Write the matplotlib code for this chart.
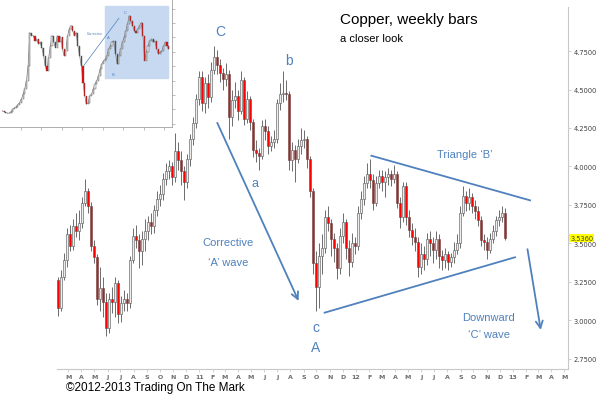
import matplotlib
matplotlib.use('Agg')
import matplotlib.pyplot as plt
import matplotlib.dates as mdates
import pandas as pd

# weekly copper bars, Feb 2010 - Dec 2012
first_open = 3.26
closes = [3.08, 3.28, 3.39, 3.56, 3.48, 3.61, 3.58, 3.63, 3.76, 3.84,
          3.74, 3.48, 3.41, 3.14, 3.21, 3.12, 2.95, 3.14, 3.12, 3.24,
          3.04, 3.11, 3.14, 3.11, 3.39, 3.55, 3.52, 3.45, 3.53, 3.58,
          3.64, 3.61, 3.72, 3.79, 3.82, 3.92, 3.97, 4.00, 3.93, 4.10,
          4.04, 3.97, 3.90, 4.05, 4.18, 4.28, 4.44, 4.58, 4.41, 4.54,
          4.45, 4.63, 4.71, 4.66, 4.61, 4.57, 4.60, 4.32, 4.43, 4.46,
          4.36, 4.56, 4.31, 4.44, 4.29, 4.11, 4.09, 4.07, 4.26, 4.23,
          4.13, 4.16, 4.18, 4.41, 4.47, 4.48, 4.47, 4.04, 4.11, 4.05,
          4.13, 4.17, 4.18, 4.05, 3.84, 3.37, 3.22, 3.42, 3.47, 3.67,
          3.63, 3.53, 3.47, 3.34, 3.55, 3.64, 3.47, 3.38, 3.50, 3.48,
          3.70, 3.79, 3.89, 3.95, 3.91, 3.76, 3.89, 3.94, 3.90, 3.93,
          3.95, 3.92, 3.95, 3.76, 3.67, 3.87, 3.67, 3.59, 3.54, 3.51,
          3.35, 3.43, 3.40, 3.53, 3.50, 3.46, 3.53, 3.42, 3.39, 3.43,
          3.38, 3.41, 3.46, 3.50, 3.70, 3.81, 3.76, 3.80, 3.74, 3.71,
          3.65, 3.52, 3.51, 3.46, 3.53, 3.58, 3.65, 3.67, 3.70, 3.536]
highs = [3.28, 3.33, 3.44, 3.60, 3.62, 3.66, 3.70, 3.72, 3.80, 3.92,
         3.86, 3.77, 3.52, 3.43, 3.35, 3.28, 3.18, 3.18, 3.22, 3.28,
         3.26, 3.16, 3.20, 3.18, 3.42, 3.60, 3.62, 3.56, 3.58, 3.66,
         3.68, 3.70, 3.75, 3.84, 3.88, 3.96, 4.02, 4.04, 4.03, 4.22,
         4.16, 4.10, 4.00, 4.08, 4.21, 4.32, 4.47, 4.62, 4.62, 4.58,
         4.60, 4.68, 4.78, 4.76, 4.70, 4.64, 4.67, 4.63, 4.50, 4.55,
         4.50, 4.62, 4.58, 4.49, 4.46, 4.31, 4.17, 4.12, 4.30, 4.31,
         4.26, 4.20, 4.24, 4.44, 4.54, 4.62, 4.56, 4.49, 4.16, 4.14,
         4.18, 4.25, 4.24, 4.20, 4.07, 3.86, 3.45, 3.50, 3.56, 3.72,
         3.74, 3.66, 3.57, 3.50, 3.60, 3.70, 3.66, 3.52, 3.57, 3.54,
         3.74, 3.84, 3.94, 4.02, 4.05, 3.95, 3.94, 3.98, 3.98, 3.97,
         3.99, 3.98, 4.01, 3.97, 3.80, 3.90, 3.90, 3.72, 3.63, 3.60,
         3.54, 3.50, 3.48, 3.57, 3.58, 3.54, 3.58, 3.56, 3.46, 3.47,
         3.45, 3.44, 3.51, 3.56, 3.74, 3.87, 3.84, 3.86, 3.83, 3.78,
         3.74, 3.68, 3.56, 3.54, 3.57, 3.62, 3.68, 3.72, 3.74, 3.73]
lows = [3.03, 3.06, 3.26, 3.35, 3.45, 3.46, 3.54, 3.52, 3.60, 3.74,
        3.70, 3.45, 3.37, 3.10, 3.06, 3.02, 2.90, 2.92, 3.05, 3.02,
        2.98, 2.99, 3.06, 3.06, 3.08, 3.37, 3.47, 3.34, 3.36, 3.45,
        3.52, 3.56, 3.57, 3.68, 3.74, 3.78, 3.88, 3.92, 3.88, 3.90,
        3.98, 3.88, 3.78, 3.86, 4.00, 4.14, 4.25, 4.40, 4.36, 4.35,
        4.38, 4.42, 4.60, 4.60, 4.55, 4.50, 4.52, 4.18, 4.26, 4.38,
        4.30, 4.34, 4.27, 4.28, 4.24, 4.06, 4.03, 3.98, 4.05, 4.17,
        4.08, 4.10, 4.12, 4.15, 4.37, 4.42, 4.43, 3.98, 3.97, 3.90,
        4.02, 4.08, 4.12, 3.99, 3.80, 3.30, 3.06, 3.08, 3.30, 3.44,
        3.58, 3.42, 3.38, 3.27, 3.30, 3.50, 3.40, 3.29, 3.35, 3.43,
        3.46, 3.66, 3.75, 3.86, 3.86, 3.72, 3.74, 3.86, 3.84, 3.80,
        3.88, 3.87, 3.89, 3.73, 3.60, 3.64, 3.62, 3.54, 3.49, 3.45,
        3.28, 3.30, 3.33, 3.36, 3.42, 3.37, 3.40, 3.34, 3.33, 3.34,
        3.33, 3.35, 3.37, 3.43, 3.47, 3.68, 3.71, 3.72, 3.70, 3.66,
        3.61, 3.48, 3.46, 3.40, 3.44, 3.50, 3.55, 3.61, 3.64, 3.52]
weeks = pd.date_range('2010-02-05', periods=len(closes), freq='W-FRI')
last_price = '3.5360'

# long-term overview for the inset (monthly, from Jan 2005)
inset_first_open = 1.45
inset_closes = [1.44, 1.41, 1.38, 1.36, 1.36, 1.41, 1.50, 1.55, 1.59, 1.66,
                1.73, 1.85, 2.02, 2.20, 2.49, 3.01, 4.17, 4.06, 4.06, 3.88,
                3.94, 3.77, 3.83, 3.65, 3.36, 3.01, 2.84, 3.30, 3.71, 4.06,
                3.83, 3.65, 4.06, 3.83, 4.00, 3.59, 3.36, 3.53, 4.06, 4.29,
                4.41, 4.23, 4.06, 4.17, 3.71, 3.36, 3.01, 2.43, 1.97, 1.67,
                1.73, 1.97, 2.02, 2.20, 2.37, 2.49, 2.66, 2.90, 3.07, 3.19,
                3.24, 3.36, 3.59, 3.71, 3.83, 3.88, 3.42, 3.07, 3.36, 3.59,
                3.83, 4.00, 4.23, 4.47, 4.76, 4.58, 4.41, 4.23, 4.17, 4.29,
                4.41, 4.52, 4.06, 3.19, 3.48, 3.71, 3.88, 3.94, 3.83, 3.88,
                3.59, 3.42, 3.48, 3.53, 3.71, 3.83, 3.71, 3.59]
inset_months = pd.date_range('2005-01-15', periods=len(inset_closes), freq='MS') + pd.Timedelta(days=14)

month_letters = ['J', 'F', 'M', 'A', 'M', 'J', 'J', 'A', 'S', 'O', 'N', 'D']
price_ticks = [2.75, 3.00, 3.25, 3.50, 3.75, 4.00, 4.25, 4.50, 4.75]

# wave annotations (date, price)
corrective_arrow = [('2011-02-09', 4.30), ('2011-08-23', 3.11)]
tri_upper = [('2012-02-06', 4.07), ('2013-02-10', 3.78)]
tri_lower = [('2011-10-20', 3.05), ('2013-01-06', 3.41)]
down_arrow = [('2013-02-03', 3.48), ('2013-03-08', 2.92)]
wave_labels = [('C', '2011-02-18', 4.88, 10), ('b', '2011-07-29', 4.69, 10),
               ('a', '2011-05-11', 3.89, 9), ('c', '2011-09-30', 2.96, 10),
               ('A', '2011-09-30', 2.83, 10),
               ('Corrective', '2011-03-09', 3.51, 8), ('\u2018A\u2019 wave', '2011-03-09', 3.38, 8),
               ('Triangle \u2018B\u2019', '2012-09-11', 4.08, 8),
               ('Downward', '2012-11-04', 3.02, 8), ('\u2018C\u2019 wave', '2012-11-06', 2.91, 8)]

BLUE = '#4F81BD'
plt.rcParams['font.family'] = ['Liberation Sans', 'DejaVu Sans']


def draw_candles(ax, dates, first, cl, hi, lo, width, lw_wick, lw_edge):
    opens = [first] + cl[:-1]
    x = mdates.date2num(dates)
    if hi is not None:
        ax.vlines(x, lo, hi, color='#555555', lw=lw_wick, zorder=2)
    bottoms = [min(o, c) for o, c in zip(opens, cl)]
    heights = [max(abs(c - o), 0.006) for o, c in zip(opens, cl)]
    faces = ['#ff0000' if c < o else '#ececec' for o, c in zip(opens, cl)]
    ax.bar(x, heights, width=width, bottom=bottoms, color=faces,
           edgecolor='#505050', linewidth=lw_edge, zorder=3)


fig = plt.figure(figsize=(6, 4.02), dpi=100)
ax = fig.add_axes([0.095, 0.080, 0.852, 0.90])
draw_candles(ax, weeks, first_open, closes, highs, lows, 6, 0.6, 0.4)

ax.set_xlim(mdates.date2num(pd.Timestamp('2010-02-03')), mdates.date2num(pd.Timestamp('2013-05-10')))
ax.set_ylim(2.685, 5.036)

month_starts = pd.date_range('2010-03-01', '2013-05-01', freq='MS')
month_labels = [d.strftime('%y') if d.month == 1 else month_letters[d.month - 1] for d in month_starts]
ax.set_xticks(mdates.date2num(month_starts))
ax.set_xticklabels(month_labels, fontsize=4.5, color='#6b6b6b', fontweight='bold', family='DejaVu Sans')
ax.yaxis.tick_right()
ax.set_yticks(price_ticks)
ax.set_yticklabels(['%.4f' % v for v in price_ticks], fontsize=4.8, color='#404040', family='DejaVu Sans')
ax.tick_params(axis='both', length=2, width=0.5, color='#bfbfbf', pad=2)
for s in ['left', 'top']:
    ax.spines[s].set_visible(False)
for s in ['right', 'bottom']:
    ax.spines[s].set_color('#c8c8c8')
    ax.spines[s].set_linewidth(0.8)

ax.text(1.004, float(last_price), last_price, transform=ax.get_yaxis_transform(),
        fontsize=4.8, family='DejaVu Sans', va='center', ha='left', color='#404040',
        bbox=dict(boxstyle='square,pad=0.15', fc='#ffff00', ec='none'), zorder=5)

def dn(pt):
    return (mdates.date2num(pd.Timestamp(pt[0])), pt[1])

arrow_kw = dict(arrowstyle='->,head_length=0.5,head_width=0.25', color=BLUE, lw=1.3)
ax.annotate('', xy=dn(corrective_arrow[1]), xytext=dn(corrective_arrow[0]), arrowprops=arrow_kw)
ax.annotate('', xy=dn(down_arrow[1]), xytext=dn(down_arrow[0]), arrowprops=arrow_kw)
for seg in [tri_upper, tri_lower]:
    ax.plot([dn(p)[0] for p in seg], [p[1] for p in seg], color=BLUE, lw=1.3)
for txt, d, y, fs in wave_labels:
    ax.text(mdates.date2num(pd.Timestamp(d)), y, txt, color=BLUE, fontsize=fs,
            ha='center', va='center')

fig.text(340 / 600, 1 - 20 / 402, 'Copper, weekly bars', fontsize=11, va='center', ha='left')
fig.text(340 / 600, 1 - 39 / 402, 'a closer look', fontsize=8, va='center', ha='left')
fig.text(66 / 600, 1 - 388 / 402, '\u00a92012-2013 Trading On The Mark', fontsize=8.5, va='center', ha='left')

# inset overview
ins = fig.add_axes([0.0, 1 - 128 / 402, 172 / 600, 128 / 402])
ins.set_facecolor('white')
ins.axvspan(mdates.date2num(pd.Timestamp('2010-02-01')), mdates.date2num(pd.Timestamp('2013-03-01')),
            ymin=(2.57 - 0.88) / (5.34 - 0.88), ymax=(5.08 - 0.88) / (5.34 - 0.88),
            color='#c6d9f1', zorder=0)
ins.plot(mdates.date2num(inset_months), inset_closes, color='#8c8c8c', lw=0.5, zorder=1)
draw_candles(ins, inset_months, inset_first_open, inset_closes, None, None, 20, 0.4, 0.3)
ins.set_xlim(mdates.date2num(pd.Timestamp('2005-01-01')), mdates.date2num(pd.Timestamp('2013-05-15')))
ins.set_ylim(0.88, 5.34)
ins.set_xticks(mdates.date2num(pd.date_range('2006-01-01', '2013-01-01', freq='YS')))
ins.set_yticks([1.0, 1.5, 2.0, 2.5, 3.0, 3.5, 4.0, 4.5, 5.0])
ins.yaxis.tick_right()
ins.tick_params(labelbottom=False, labelright=False, length=2, width=0.5, color='#a0a0a0')
for s in ['left', 'top']:
    ins.spines[s].set_visible(False)
for s in ['right', 'bottom']:
    ins.spines[s].set_color('#a0a0a0')
    ins.spines[s].set_linewidth(0.6)
ins.plot([mdates.date2num(pd.Timestamp('2009-02-01')), mdates.date2num(pd.Timestamp('2010-10-15'))],
         [3.03, 4.67], color=BLUE, lw=0.5)
ins.text(mdates.date2num(pd.Timestamp('2009-08-20')), 4.17, 'Corrective', color=BLUE, fontsize=2.5, ha='center', va='center')
for t, d, y in [('C', '2011-02-01', 4.87), ('A', '2010-04-15', 4.0), ('B', '2010-07-01', 2.72)]:
    ins.text(mdates.date2num(pd.Timestamp(d)), y, t, color=BLUE, fontsize=3, ha='center', va='center')

fig.savefig('out.png', dpi=100)
